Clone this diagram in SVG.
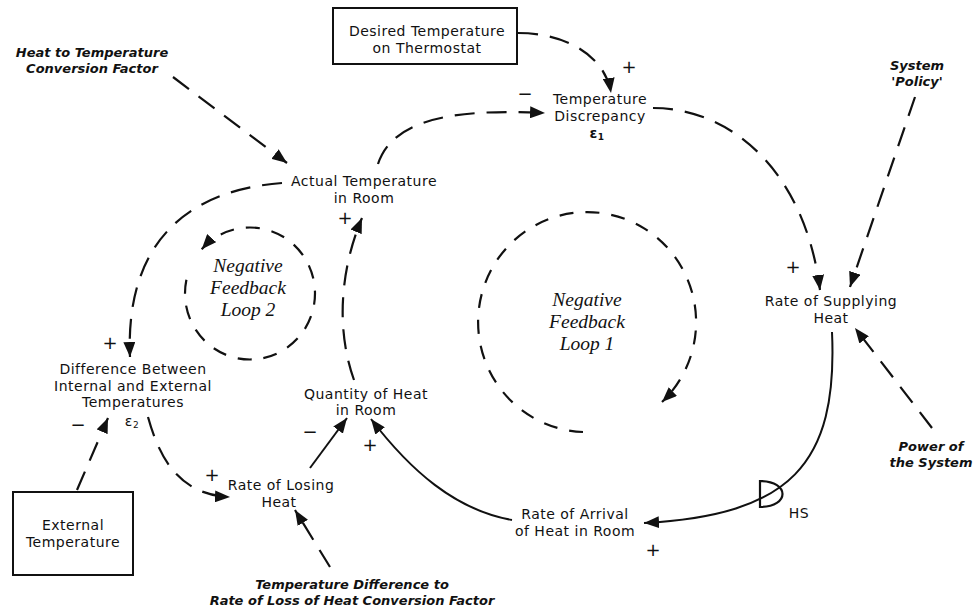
<svg xmlns="http://www.w3.org/2000/svg" width="975" height="612" viewBox="0 0 975 612">
  <style>
    .lbl { font-family: "DejaVu Sans", "Liberation Sans", sans-serif; font-size: 14px; letter-spacing: 0.5px; fill: #111; text-anchor: middle; }
    .ext { font-family: "DejaVu Sans", "Liberation Sans", sans-serif; font-size: 13px; font-weight: bold; font-style: italic; fill: #111; text-anchor: middle; }
    .loop { font-family: "Liberation Serif", "DejaVu Serif", serif; font-size: 19.5px; font-style: italic; fill: #111; text-anchor: middle; }
    .sign { font-family: "DejaVu Sans", sans-serif; font-size: 18px; fill: #111; text-anchor: middle; }
    .box { fill: #fff; stroke: #111; stroke-width: 2; }
    .dash { fill: none; stroke: #111; stroke-width: 2.2; stroke-dasharray: 20 12; marker-end: url(#ah); }
    .ring { fill: none; stroke: #111; stroke-width: 2.2; stroke-dasharray: 14 12; }
    .solid { fill: none; stroke: #111; stroke-width: 2; marker-end: url(#ah); }
  </style>
  <defs>
    <marker id="ah" markerUnits="userSpaceOnUse" markerWidth="16" markerHeight="12" refX="15" refY="6" orient="auto">
      <path d="M0,0 L15,6 L0,12 z" fill="#111"/>
    </marker>
  </defs>
  <rect width="975" height="612" fill="#fff"/>

  <!-- connectors -->
  <g id="connectors">
    <path class="dash" d="M173 77 L287 163"/>
    <path class="dash" d="M282 183 C190 190, 125 240, 130 357"/>
    <path class="dash" d="M354 380 C336 330, 340 270, 362 218"/>
    <path class="dash" d="M378 164 C392 122, 445 108, 545 113"/>
    <path class="dash" d="M518 33 C565 33, 605 55, 611 93"/>
    <path class="dash" d="M653 108 C730 108, 805 170, 820 290"/>
    <path class="dash" d="M915 97 L850 287"/>
    <path class="dash" d="M932 428 L855 328"/>
    <path class="dash" d="M148 417 C160 460, 180 495, 230 497"/>
    <path class="dash" d="M77 490 L108 418"/>
    <path class="dash" d="M330 567 L295 510"/>
    <path class="solid" d="M832 332 C838 465, 790 515, 644 523"/>
    <path class="solid" d="M512 520 C455 510, 410 470, 371 419"/>
    <path class="solid" d="M310 468 L347 418"/>
    <!-- heat source valve -->
    <path d="M760 481 L760 507 C790 507, 790 481, 760 481 Z" fill="none" stroke="#111" stroke-width="2.2"/>
    <text class="lbl" x="799" y="518" letter-spacing="0">HS</text>
  </g>

  <!-- feedback loops -->
  <g id="loop1">
    <path class="ring" d="M583 432 A109 110 0 1 1 662 402" marker-end="url(#ah)"/>
    <text class="loop" x="587" y="306">Negative</text>
    <text class="loop" x="587" y="328">Feedback</text>
    <text class="loop" x="587" y="350">Loop 1</text>
  </g>
  <g id="loop2">
    <path class="ring" d="M186.4 279.8 A65 66 0 1 0 201.7 249.3" marker-end="url(#ah)"/>
    <text class="loop" x="248" y="272">Negative</text>
    <text class="loop" x="248" y="294">Feedback</text>
    <text class="loop" x="248" y="316">Loop 2</text>
  </g>

  <!-- nodes -->
  <g id="heat-conversion">
    <text class="ext" x="92" y="57">Heat to Temperature</text>
    <text class="ext" x="92" y="73">Conversion Factor</text>
  </g>
  <g id="desired-temperature">
    <rect class="box" x="333" y="8" width="184" height="56"/>
    <text class="lbl" x="427" y="36">Desired Temperature</text>
    <text class="lbl" x="427" y="52.5">on Thermostat</text>
  </g>
  <g id="temperature-discrepancy">
    <text class="lbl" x="600" y="104">Temperature</text>
    <text class="lbl" x="600" y="120.5">Discrepancy</text>
    <text class="lbl" x="597" y="138" font-weight="bold">ε<tspan font-size="9" dy="2">1</tspan></text>
    <text class="sign" x="629" y="73">+</text>
    <text class="sign" x="525" y="100" font-size="14">−</text>
  </g>
  <g id="system-policy">
    <text class="ext" x="917" y="70">System</text>
    <text class="ext" x="917" y="86">'Policy'</text>
  </g>
  <g id="actual-temperature">
    <text class="lbl" x="364" y="186">Actual Temperature</text>
    <text class="lbl" x="364" y="202.5">in Room</text>
    <text class="sign" x="345" y="224">+</text>
  </g>
  <g id="rate-supplying">
    <text class="lbl" x="831" y="306">Rate of Supplying</text>
    <text class="lbl" x="831" y="322.5">Heat</text>
    <text class="sign" x="793" y="273">+</text>
  </g>
  <g id="difference">
    <text class="lbl" x="133" y="374">Difference Between</text>
    <text class="lbl" x="133" y="390.5">Internal and External</text>
    <text class="lbl" x="133" y="407">Temperatures</text>
    <text class="lbl" x="132" y="426" font-size="15">ε<tspan font-size="9" dy="2">2</tspan></text>
    <text class="sign" x="110" y="349">+</text>
    <text class="sign" x="78" y="431">−</text>
  </g>
  <g id="quantity-heat">
    <text class="lbl" x="366" y="398.5">Quantity of Heat</text>
    <text class="lbl" x="366" y="415">in Room</text>
    <text class="sign" x="310" y="438">−</text>
    <text class="sign" x="370" y="451">+</text>
  </g>
  <g id="power-system">
    <text class="ext" x="931" y="451">Power of</text>
    <text class="ext" x="931" y="467">the System</text>
  </g>
  <g id="external-temperature">
    <rect class="box" x="13" y="492" width="120" height="83"/>
    <text class="lbl" x="73" y="530">External</text>
    <text class="lbl" x="73" y="546.5">Temperature</text>
  </g>
  <g id="rate-losing">
    <text class="lbl" x="281" y="490">Rate of Losing</text>
    <text class="lbl" x="279" y="506.5">Heat</text>
    <text class="sign" x="212" y="481">+</text>
  </g>
  <g id="rate-arrival">
    <text class="lbl" x="575" y="519">Rate of Arrival</text>
    <text class="lbl" x="575" y="535.5">of Heat in Room</text>
    <text class="sign" x="653" y="556">+</text>
  </g>
  <g id="loss-conversion">
    <text class="ext" x="352" y="589">Temperature Difference to</text>
    <text class="ext" x="352" y="605">Rate of Loss of Heat Conversion Factor</text>
  </g>
</svg>
